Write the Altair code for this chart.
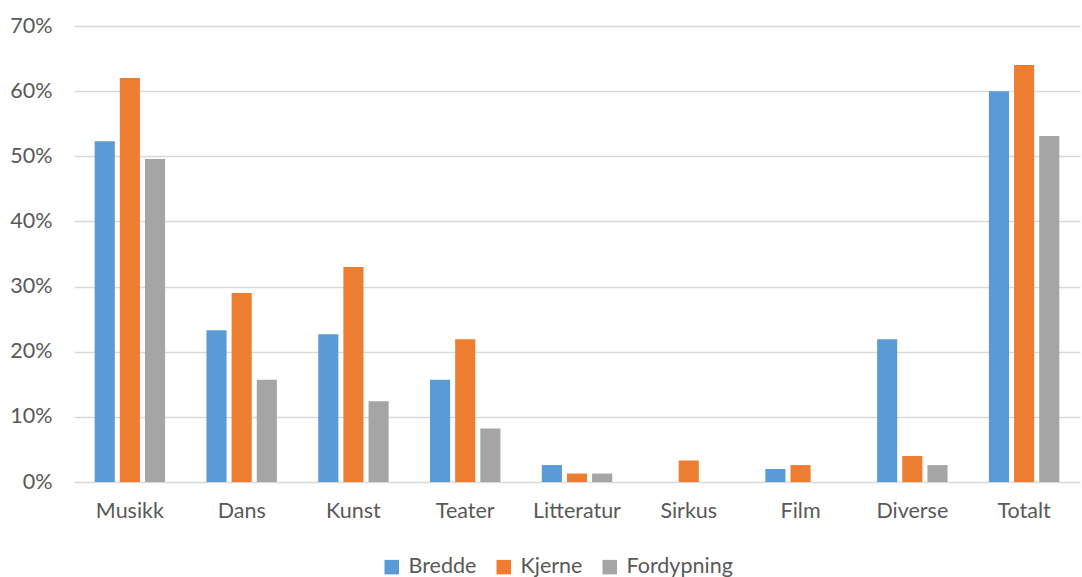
import altair as alt
import pandas as pd

categories = ["Musikk", "Dans", "Kunst", "Teater", "Litteratur", "Sirkus", "Film", "Diverse", "Totalt"]
series = ["Bredde", "Kjerne", "Fordypning"]
bredde = [52.3, 23.3, 22.7, 15.7, 2.6, 0.0, 2.0, 21.9, 60.0]
kjerne = [62.0, 29.0, 33.0, 21.9, 1.3, 3.3, 2.6, 4.0, 64.0]
fordypning = [49.6, 15.7, 12.4, 8.2, 1.3, 0.0, 0.0, 2.6, 53.1]
colors = ["#5B9BD5", "#ED7D31", "#A5A5A5"]

rows = []
for s, vals in zip(series, [bredde, kjerne, fordypning]):
    for c, v in zip(categories, vals):
        rows.append({"Kategori": c, "Serie": s, "Verdi": v / 100})
df = pd.DataFrame(rows)

FONT = "Lato"
FS = 21.5

chart = alt.Chart(df).mark_bar().encode(
    x=alt.X("Kategori:N", sort=categories, title=None,
            scale=alt.Scale(paddingInner=0.37, paddingOuter=0.185),
            axis=alt.Axis(labelAngle=0, ticks=False, domain=False, labelPadding=18,
                          labelFontSize=FS, labelColor="#595959", labelFont=FONT)),
    xOffset=alt.XOffset("Serie:N", sort=series, scale=alt.Scale(paddingInner=0.2)),
    y=alt.Y("Verdi:Q", title=None,
            scale=alt.Scale(domain=[0, 0.7], nice=False),
            axis=alt.Axis(format=".0%", values=[0, 0.1, 0.2, 0.3, 0.4, 0.5, 0.6, 0.7],
                          ticks=False, domain=False, labelPadding=22,
                          labelFontSize=FS, labelColor="#595959", labelFont=FONT,
                          gridColor="#D9D9D9", gridWidth=1.5)),
    color=alt.Color("Serie:N", sort=series, title=None,
                    scale=alt.Scale(domain=series, range=colors),
                    legend=alt.Legend(orient="none", legendX=307, legendY=530,
                                      direction="horizontal", symbolType="square",
                                      symbolSize=210, symbolStrokeWidth=0,
                                      labelFontSize=FS, labelColor="#595959",
                                      labelFont=FONT, columnPadding=16, labelOffset=6)),
).properties(
    width=1006, height=456,
    autosize=alt.AutoSizeParams(type="none"),
    padding={"left": 74, "top": 26, "right": 2, "bottom": 95},
    background="white",
).configure_view(stroke=None)

chart.save("out.html", embed_options={"renderer": "svg", "actions": False})
